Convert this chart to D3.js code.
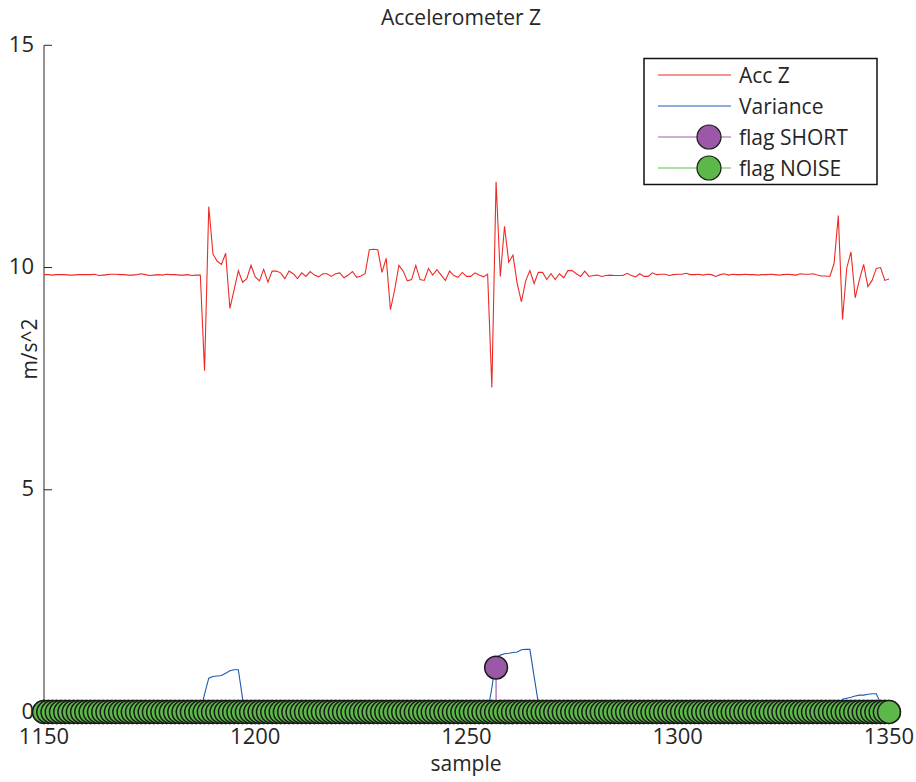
<!DOCTYPE html>
<html>
<head>
<meta charset="utf-8">
<script src="https://cdn.jsdelivr.net/npm/d3@7"></script>
<style>
  body { margin: 0; background: #fff; }
  svg { display: block; }
  text { font-family: "Open Sans", "Noto Sans", sans-serif; fill: #262626; }
</style>
</head>
<body>
<svg id="chart" width="916" height="782"></svg>
<script>
// Sample window shown on the x axis
const sampleStart = 1150;
const sampleEnd = 1350;

// Accelerometer Z reading per sample (m/s^2), samples 1150..1350
const accZ = [
  9.84, 9.84, 9.83, 9.84, 9.84, 9.84, 9.83, 9.83, 9.84, 9.84,
  9.84, 9.84, 9.85, 9.82, 9.83, 9.84, 9.85, 9.85, 9.84, 9.84,
  9.83, 9.83, 9.84, 9.86, 9.84, 9.82, 9.83, 9.84, 9.83, 9.85,
  9.84, 9.84, 9.83, 9.83, 9.84, 9.82, 9.83, 9.83, 7.68, 11.37,
  10.30, 10.14, 10.07, 10.32, 9.08, 9.50, 9.93, 9.67, 9.75, 10.05,
  9.79, 9.70, 9.96, 9.67, 9.92, 9.92, 9.88, 9.75, 9.92, 9.86,
  9.75, 9.88, 9.80, 9.91, 9.83, 9.79, 9.86, 9.86, 9.80, 9.86,
  9.88, 9.77, 9.83, 9.91, 9.78, 9.81, 9.86, 10.40, 10.41, 10.40,
  9.89, 10.21, 9.05, 9.50, 10.05, 9.92, 9.70, 9.73, 10.05, 9.73,
  9.71, 9.98, 9.83, 9.95, 9.83, 9.71, 9.92, 9.82, 9.78, 9.89,
  9.80, 9.80, 9.88, 9.83, 9.79, 9.85, 7.30, 11.93, 9.80, 10.93,
  10.12, 10.28, 9.64, 9.23, 9.70, 9.93, 9.64, 9.89, 9.89, 9.73,
  9.86, 9.73, 9.86, 9.77, 9.93, 9.93, 9.86, 9.80, 9.92, 9.80,
  9.82, 9.83, 9.80, 9.82, 9.83, 9.82, 9.82, 9.82, 9.87, 9.82,
  9.79, 9.86, 9.80, 9.80, 9.88, 9.84, 9.85, 9.85, 9.82, 9.84,
  9.85, 9.85, 9.87, 9.84, 9.84, 9.85, 9.83, 9.85, 9.84, 9.80,
  9.84, 9.86, 9.83, 9.85, 9.84, 9.84, 9.85, 9.84, 9.84, 9.83,
  9.84, 9.84, 9.85, 9.84, 9.83, 9.84, 9.85, 9.84, 9.83, 9.86,
  9.85, 9.85, 9.86, 9.83, 9.81, 9.81, 9.80, 10.09, 11.17, 8.83,
  9.99, 10.35, 9.32, 9.73, 10.07, 9.57, 9.71, 9.98, 10.00, 9.71,
  9.74
];

// Moving variance of Acc Z, samples 1150..1350
const variance = [
  0, 0, 0, 0, 0, 0, 0, 0, 0, 0,
  0, 0, 0, 0, 0, 0, 0, 0, 0, 0,
  0, 0, 0, 0, 0, 0, 0, 0, 0, 0,
  0, 0, 0, 0, 0, 0, 0, 0, 0.40, 0.76,
  0.80, 0.81, 0.82, 0.87, 0.93, 0.95, 0.95, 0.30, 0, 0,
  0, 0, 0, 0, 0, 0, 0, 0, 0, 0,
  0, 0, 0, 0, 0, 0, 0, 0, 0, 0,
  0, 0, 0, 0, 0, 0, 0, 0, 0, 0,
  0, 0, 0, 0, 0, 0, 0, 0, 0, 0,
  0, 0, 0, 0, 0, 0, 0, 0, 0, 0,
  0, 0, 0, 0, 0, 0, 0.54, 1.22, 1.28, 1.31,
  1.32, 1.34, 1.35, 1.40, 1.41, 1.41, 0.80, 0.20, 0, 0,
  0, 0, 0, 0, 0, 0, 0, 0, 0, 0,
  0, 0, 0, 0, 0, 0, 0, 0, 0, 0,
  0, 0, 0, 0, 0, 0, 0, 0, 0, 0,
  0, 0, 0, 0, 0, 0, 0, 0, 0, 0,
  0, 0, 0, 0, 0, 0, 0, 0, 0, 0,
  0, 0, 0, 0, 0, 0, 0, 0, 0, 0,
  0, 0, 0, 0, 0, 0, 0, 0, 0, 0.29,
  0.31, 0.33, 0.36, 0.38, 0.38, 0.40, 0.41, 0.41, 0.20, 0,
  0
];

// Short-event flag, samples 1150..1350
const flagShort = [
  0, 0, 0, 0, 0, 0, 0, 0, 0, 0,
  0, 0, 0, 0, 0, 0, 0, 0, 0, 0,
  0, 0, 0, 0, 0, 0, 0, 0, 0, 0,
  0, 0, 0, 0, 0, 0, 0, 0, 0, 0,
  0, 0, 0, 0, 0, 0, 0, 0, 0, 0,
  0, 0, 0, 0, 0, 0, 0, 0, 0, 0,
  0, 0, 0, 0, 0, 0, 0, 0, 0, 0,
  0, 0, 0, 0, 0, 0, 0, 0, 0, 0,
  0, 0, 0, 0, 0, 0, 0, 0, 0, 0,
  0, 0, 0, 0, 0, 0, 0, 0, 0, 0,
  0, 0, 0, 0, 0, 0, 0, 1, 0, 0,
  0, 0, 0, 0, 0, 0, 0, 0, 0, 0,
  0, 0, 0, 0, 0, 0, 0, 0, 0, 0,
  0, 0, 0, 0, 0, 0, 0, 0, 0, 0,
  0, 0, 0, 0, 0, 0, 0, 0, 0, 0,
  0, 0, 0, 0, 0, 0, 0, 0, 0, 0,
  0, 0, 0, 0, 0, 0, 0, 0, 0, 0,
  0, 0, 0, 0, 0, 0, 0, 0, 0, 0,
  0, 0, 0, 0, 0, 0, 0, 0, 0, 0,
  0, 0, 0, 0, 0, 0, 0, 0, 0, 0,
  0
];

// Noise flag, samples 1150..1350
const flagNoise = [
  0, 0, 0, 0, 0, 0, 0, 0, 0, 0,
  0, 0, 0, 0, 0, 0, 0, 0, 0, 0,
  0, 0, 0, 0, 0, 0, 0, 0, 0, 0,
  0, 0, 0, 0, 0, 0, 0, 0, 0, 0,
  0, 0, 0, 0, 0, 0, 0, 0, 0, 0,
  0, 0, 0, 0, 0, 0, 0, 0, 0, 0,
  0, 0, 0, 0, 0, 0, 0, 0, 0, 0,
  0, 0, 0, 0, 0, 0, 0, 0, 0, 0,
  0, 0, 0, 0, 0, 0, 0, 0, 0, 0,
  0, 0, 0, 0, 0, 0, 0, 0, 0, 0,
  0, 0, 0, 0, 0, 0, 0, 0, 0, 0,
  0, 0, 0, 0, 0, 0, 0, 0, 0, 0,
  0, 0, 0, 0, 0, 0, 0, 0, 0, 0,
  0, 0, 0, 0, 0, 0, 0, 0, 0, 0,
  0, 0, 0, 0, 0, 0, 0, 0, 0, 0,
  0, 0, 0, 0, 0, 0, 0, 0, 0, 0,
  0, 0, 0, 0, 0, 0, 0, 0, 0, 0,
  0, 0, 0, 0, 0, 0, 0, 0, 0, 0,
  0, 0, 0, 0, 0, 0, 0, 0, 0, 0,
  0, 0, 0, 0, 0, 0, 0, 0, 0, 0,
  0
];

const xTicks = [1150, 1200, 1250, 1300, 1350];
const yTicks = [0, 5, 10, 15];
const seriesNames = ["Acc Z", "Variance", "flag SHORT", "flag NOISE"];

const colors = {
  acc: "#ee2a26",
  variance: "#1f59b4",
  shortFill: "#9b58a6",
  shortLine: "#a45cb4",
  noiseFill: "#5cb848",
  noiseLine: "#5fc04a",
  edge: "#1a1a1a"
};

const samples = d3.range(sampleStart, sampleEnd + 1);

const svg = d3.select("#chart");
const x = d3.scaleLinear().domain([sampleStart, sampleEnd]).range([44, 889]);
const y = d3.scaleLinear().domain([0, 15]).range([712, 45.3]);

// Title and axis labels
svg.append("text")
  .attr("x", 461).attr("y", 25)
  .attr("text-anchor", "middle")
  .style("font-size", "21px")
  .text("Accelerometer Z");

svg.append("text")
  .attr("x", 466).attr("y", 771)
  .attr("text-anchor", "middle")
  .style("font-size", "21px")
  .text("sample");

svg.append("text")
  .attr("transform", "translate(37,349) rotate(-90)")
  .attr("text-anchor", "middle")
  .style("font-size", "21px")
  .text("m/s^2");

// Axes (ticks point inward)
const yAxis = svg.append("g")
  .attr("transform", "translate(44,0)")
  .call(d3.axisLeft(y).tickValues(yTicks).tickFormat(d3.format("d"))
    .tickSize(-8).tickSizeOuter(0).tickPadding(10).offset(0));

const xAxis = svg.append("g")
  .attr("transform", "translate(0,712)")
  .call(d3.axisBottom(x).tickValues(xTicks).tickFormat(d3.format("d"))
    .tickSize(-8).tickSizeOuter(0).tickPadding(16).offset(0));

[yAxis, xAxis].forEach(g => {
  g.selectAll("path, line").attr("stroke", "#262626").attr("stroke-width", 1);
  g.selectAll("text").style("font-size", "22px").attr("fill", "#262626")
    .style("font-family", "\"Open Sans\", sans-serif");
});
yAxis.selectAll(".tick text").attr("dy", "0.3em");

// Series lines
const line = d3.line().x((d, i) => x(samples[i])).y(d => y(d));

svg.append("path")
  .datum(accZ)
  .attr("d", line)
  .attr("fill", "none")
  .attr("stroke", colors.acc)
  .attr("stroke-width", 1.1)
  .attr("stroke-linejoin", "miter");

svg.append("path")
  .datum(variance)
  .attr("d", line)
  .attr("fill", "none")
  .attr("stroke", colors.variance)
  .attr("stroke-width", 1.1);

// Stem plots: stems then markers
function stems(values, lineColor, fillColor) {
  const g = svg.append("g");
  g.selectAll("line")
    .data(values)
    .join("line")
    .attr("x1", (d, i) => x(samples[i]))
    .attr("x2", (d, i) => x(samples[i]))
    .attr("y1", y(0))
    .attr("y2", d => y(d))
    .attr("stroke", lineColor)
    .attr("stroke-width", 1.2);
  g.selectAll("circle")
    .data(values)
    .join("circle")
    .attr("cx", (d, i) => x(samples[i]))
    .attr("cy", d => y(d))
    .attr("r", 11.4)
    .attr("fill", fillColor)
    .attr("stroke", colors.edge)
    .attr("stroke-width", 1.5);
}

stems(flagShort, colors.shortLine, colors.shortFill);
stems(flagNoise, colors.noiseLine, colors.noiseFill);

// Legend
const legend = svg.append("g");
legend.append("rect")
  .attr("x", 644).attr("y", 58.5)
  .attr("width", 233).attr("height", 126)
  .attr("fill", "#fff")
  .attr("stroke", "#111")
  .attr("stroke-width", 1.5);

const legendItems = [
  { name: seriesNames[0], line: colors.acc, marker: null },
  { name: seriesNames[1], line: colors.variance, marker: null },
  { name: seriesNames[2], line: colors.shortLine, marker: colors.shortFill },
  { name: seriesNames[3], line: colors.noiseLine, marker: colors.noiseFill }
];

legendItems.forEach((item, i) => {
  const cy = 75 + i * 31;
  legend.append("line")
    .attr("x1", 658).attr("x2", 731)
    .attr("y1", cy).attr("y2", cy)
    .attr("stroke", item.line)
    .attr("stroke-width", 1.1);
  if (item.marker) {
    legend.append("circle")
      .attr("cx", 709).attr("cy", cy)
      .attr("r", 12)
      .attr("fill", item.marker)
      .attr("stroke", colors.edge)
      .attr("stroke-width", 1.2);
  }
  legend.append("text")
    .attr("x", 739).attr("y", cy + 7.5)
    .style("font-size", "21px")
    .text(item.name);
});
</script>
</body>
</html>
